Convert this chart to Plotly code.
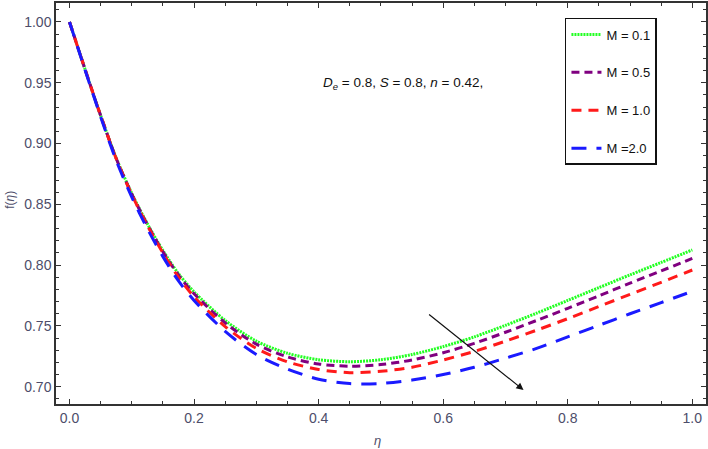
import plotly.graph_objects as go

eta = [0.0, 0.025, 0.05, 0.075, 0.1, 0.125, 0.15, 0.175, 0.2, 0.25, 0.3, 0.35, 0.4,
       0.45, 0.5, 0.55, 0.6, 0.65, 0.7, 0.75, 0.8, 0.85, 0.9, 0.95, 1.0]

f_m01 = [1.000, 0.961, 0.923, 0.888, 0.859, 0.834, 0.812, 0.793, 0.778, 0.7545, 0.7375,
         0.7275, 0.7222, 0.7206, 0.7222, 0.7265, 0.7330, 0.7410, 0.7505, 0.7605, 0.7710,
         0.7815, 0.7920, 0.8022, 0.8125]
f_m05 = [1.000, 0.961, 0.923, 0.8877, 0.8585, 0.8333, 0.811, 0.7918, 0.7765, 0.7525, 0.735,
         0.7245, 0.7187, 0.7169, 0.7182, 0.722, 0.728, 0.7357, 0.7448, 0.7545, 0.7645,
         0.7748, 0.7852, 0.7953, 0.8055]
f_m10 = [1.000, 0.961, 0.923, 0.8875, 0.858, 0.8325, 0.810, 0.790, 0.774, 0.7495, 0.7315,
         0.7205, 0.7142, 0.7116, 0.7127, 0.716, 0.722, 0.729, 0.7375, 0.7465, 0.756,
         0.766, 0.776, 0.7859, 0.796]
f_m20 = [1.000, 0.9605, 0.922, 0.886, 0.856, 0.830, 0.807, 0.787, 0.771, 0.7455, 0.7265,
         0.7145, 0.7062, 0.7026, 0.7027, 0.7055, 0.710, 0.716, 0.7235, 0.7315, 0.741,
         0.7505, 0.760, 0.7692, 0.7785]

series_names = ["M = 0.1", "M = 0.5", "M = 1.0", "M =2.0"]
series_values = [f_m01, f_m05, f_m10, f_m20]
series_colors = ["#22ff22", "#800080", "#ff1a1a", "#1a1aff"]
series_dash = ["2px,1px", "8px,5px", "10px,7px", "15px,10px"]

x_ticks = [0.0, 0.2, 0.4, 0.6, 0.8, 1.0]
x_ticklabels = ["0.0", "0.2", "0.4", "0.6", "0.8", "1.0"]
y_ticks = [0.70, 0.75, 0.80, 0.85, 0.90, 0.95, 1.00]
y_ticklabels = ["0.70", "0.75", "0.80", "0.85", "0.90", "0.95", "1.00"]

fig = go.Figure()
for name, vals, col, dash in zip(series_names, series_values, series_colors, series_dash):
    fig.add_trace(go.Scatter(
        x=eta, y=vals, mode="lines", name=name, legendgroup=name,
        line=dict(color=col, width=3, dash=dash, shape="spline", smoothing=0.8),
    ))

label_color = "#4d4d6a"
tick_font = dict(family="Liberation Sans, Arial", size=14, color=label_color)
axis_common = dict(
    showline=True, linecolor="#333333", linewidth=1.5, mirror="allticks",
    ticks="inside", ticklen=5, tickwidth=1, tickcolor="#333333",
    showgrid=False, zeroline=False, tickfont=tick_font, automargin=False,
)

fig.update_xaxes(
    range=[-0.0217, 1.022], tickvals=x_ticks, ticktext=x_ticklabels,
    minor=dict(dtick=0.05, tick0=0, ticks="inside", ticklen=3, tickcolor="#333333"),
    **axis_common,
)
fig.update_yaxes(
    range=[0.6858, 1.0156], tickvals=y_ticks, ticktext=y_ticklabels,
    minor=dict(dtick=0.01, tick0=0.70, ticks="inside", ticklen=3, tickcolor="#333333"),
    **axis_common,
)

# axis titles
fig.add_annotation(
    x=0.495, y=-0.09, xref="paper", yref="paper", showarrow=False,
    xanchor="center", yanchor="middle",
    text="<i>η</i>", font=dict(family="Liberation Sans, Arial", size=13, color=label_color),
)
fig.add_annotation(
    x=-0.071, y=0.509, xref="paper", yref="paper", showarrow=False, textangle=-90,
    xanchor="center", yanchor="middle",
    text="f(<i>η</i>)", font=dict(family="Liberation Sans, Arial", size=12, color=label_color),
)

fig.add_annotation(
    x=0.5357, y=0.9492, xref="x", yref="y", showarrow=False,
    text="<i>D</i><sub><i>e</i></sub> = 0.8, <i>S</i> = 0.8, <i>n</i> = 0.42,",
    font=dict(family="Liberation Sans, Arial", size=13.5, color="#111111"),
)

fig.add_annotation(
    x=0.729, y=0.6973, ax=0.575, ay=0.7604, xref="x", yref="y", axref="x", ayref="y",
    text="", showarrow=True, arrowhead=2, arrowsize=1.2, arrowwidth=1.2, arrowcolor="#111111",
)

fig.update_layout(
    width=708, height=449,
    margin=dict(l=56, r=2, t=3, b=45, autoexpand=False),
    plot_bgcolor="white", paper_bgcolor="white",
    legend=dict(
        x=0.783, y=0.9626, xanchor="left", yanchor="top",
        bordercolor="#111111", borderwidth=1.5, bgcolor="white",
        font=dict(family="Liberation Sans, Arial", size=13, color="#111111"),
        tracegroupgap=18, itemwidth=30,
    ),
)

fig.write_html("out.html", config={"displayModeBar": False},
               post_script="document.body.style.margin='0';")
